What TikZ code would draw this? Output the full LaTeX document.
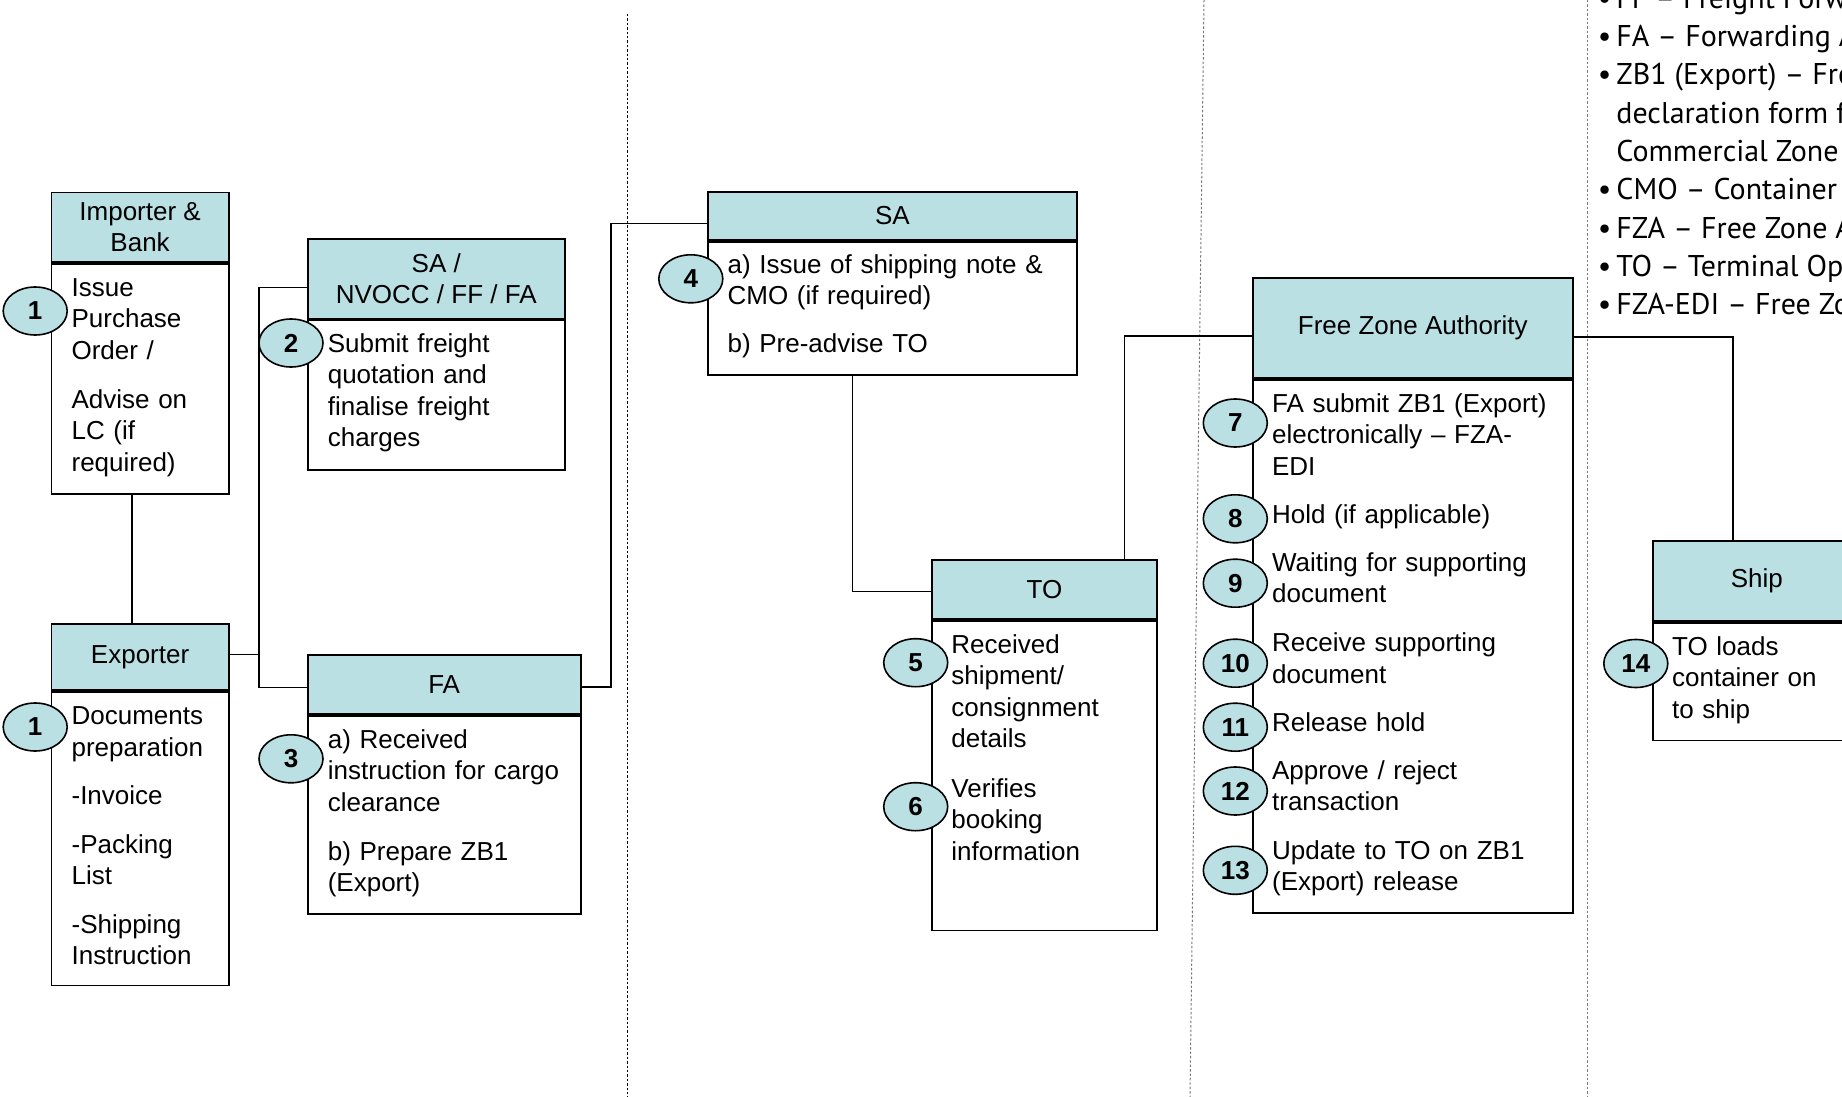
\documentclass[tikz,border=0pt]{standalone}
\usepackage{fontspec}
\setmainfont{Liberation Sans}
\newfontfamily\keyfont{PT Sans}
\usetikzlibrary{shapes.geometric,positioning}
\definecolor{laneteal}{HTML}{BAE0E3}
\definecolor{sepgrey}{HTML}{7A7A7A}
\newcommand{\lanefont}{\fontsize{13}{15.75}\selectfont}

\tikzset{
  head/.style={draw,line width=0.9pt,fill=laneteal,align=center,inner sep=0pt,anchor=north west},
  body/.style={draw,line width=0.9pt,fill=white,inner sep=0pt,anchor=north west},
  item/.style={anchor=base west,align=left,inner sep=0pt,text width=190pt},
  num/.style={ellipse,draw,line width=0.8pt,fill=laneteal,minimum width=32pt,
    minimum height=24pt,inner sep=0pt,font=\lanefont\bfseries},
  link/.style={line width=0.8pt},
  lane/.style={line width=0.5pt,dash pattern=on 1.2pt off 1pt},
  key/.style={anchor=base west,inner sep=0pt}
}

\begin{document}
\begin{tikzpicture}[x=0.5pt,y=-0.5pt,font=\lanefont]
    \useasboundingbox (0,0) rectangle (1842,1097);
    \clip (0,0) rectangle (1842,1097);

    % lane separators
    \draw[lane] (627,14) -- (627,1097);
    \draw[lane,sepgrey] (1204,0) -- (1190,1097);
    \draw[lane,sepgrey] (1587.5,0) -- (1587.5,1097);

    % boxes: header + body
    \node[head,minimum width=88.6pt,minimum height=34.75pt] (imp) at (50.6,191.5) {Importer \&\\Bank};
    \node[body,minimum width=88.6pt,minimum height=115.25pt] (impb) at (imp.south west) {};
    \node[head,minimum width=88.6pt,minimum height=33.3pt] (exp) at (50.6,622.7) {Exporter};
    \node[body,minimum width=88.6pt,minimum height=146.7pt] (expb) at (exp.south west) {};
    \node[head,minimum width=128.55pt,minimum height=39.7pt] (snv) at (306.8,238.3) {SA /\\NVOCC / FF / FA};
    \node[body,minimum width=128.55pt,minimum height=74.8pt] (snvb) at (snv.south west) {};
    \node[head,minimum width=136.45pt,minimum height=29.5pt] (fa) at (306.8,654.3) {FA};
    \node[body,minimum width=136.45pt,minimum height=98.85pt] (fab) at (fa.south west) {};
    \node[head,minimum width=184.25pt,minimum height=24.3pt] (sa) at (707.3,190.7) {SA};
    \node[body,minimum width=184.25pt,minimum height=66.5pt] (sab) at (sa.south west) {};
    \node[head,minimum width=112.2pt,minimum height=29.65pt] (to) at (931.3,559) {TO};
    \node[body,minimum width=112.2pt,minimum height=154.7pt] (tob) at (to.south west) {};
    \node[head,minimum width=160.15pt,minimum height=50.1pt] (fza) at (1251.7,276.8) {Free Zone Authority};
    \node[body,minimum width=160.15pt,minimum height=266.65pt] (fzab) at (fza.south west) {};
    \node[head,minimum width=104.15pt,minimum height=40pt] (ship) at (1651.7,540) {Ship};
    \node[body,minimum width=104.15pt,minimum height=58.85pt] (shipb) at (ship.south west) {};

    % connectors
    \coordinate (ja) at (259,654.3);
    \coordinate (jb) at (611,686.7);
    \draw[link] ([xshift=-3.95pt]impb.south) -- ([xshift=-3.95pt]exp.north);
    \draw[link] (exp.east |- ja) -- (ja) |- ([yshift=-4.35pt]snv.west);
    \draw[link] (ja) |- ([yshift=-1.45pt]fa.west);
    \draw[link] (fa.east |- jb) -- (jb) |- ([yshift=-3.85pt]sa.west);
    \draw[link] ([xshift=-20pt]sab.south) |- ([yshift=-1pt]to.west);
    \draw[link] ([xshift=40pt]to.north) |- ([yshift=-4pt]fza.west);
    \draw[link] ([yshift=-4.45pt]fza.east) -| ([xshift=-11.9pt]ship.north);

    % step texts
    \node[item] (imp1) at (71.2,296.3) {Issue\\Purchase\\Order /};
    \node[item] (imp2) at (71.2,408) {Advise on\\LC (if\\required)};
    \node[item] (exp1) at (71.2,724.7) {Documents\\preparation};
    \node[item] (exp2) at (71.2,804) {-Invoice};
    \node[item] (exp3) at (71.2,853) {-Packing\\List};
    \node[item] (exp4) at (71.2,933) {-Shipping\\Instruction};
    \node[item] (snv1) at (327.4,352) {Submit freight\\quotation and\\finalise freight\\charges};
    \node[item] (fa1) at (327.4,748) {a) Received\\instruction for cargo\\clearance};
    \node[item] (fa2) at (327.4,860.3) {b) Prepare ZB1\\(Export)};
    \node[item] (sa1) at (727.2,273) {a) Issue of shipping note \&\\CMO (if required)};
    \node[item] (sa2) at (727.2,352) {b) Pre-advise TO};
    \node[item] (to1) at (951,653) {Received\\shipment/\\consignment\\details};
    \node[item] (to2) at (951,797.3) {Verifies\\booking\\information};
    \node[item] (fz7) at (1271.7,412) {FA submit ZB1 (Export)\\electronically – FZA-\\EDI};
    \node[item] (fz8) at (1271.7,523) {Hold (if applicable)};
    \node[item] (fz9) at (1271.7,571) {Waiting for supporting\\document};
    \node[item] (fz10) at (1271.7,651.8) {Receive supporting\\document};
    \node[item] (fz11) at (1271.7,731.8) {Release hold};
    \node[item] (fz12) at (1271.7,779.4) {Approve / reject\\transaction};
    \node[item] (fz13) at (1271.7,859.3) {Update to TO on ZB1\\(Export) release};
    \node[item] (sh14) at (1671.7,655.3) {TO loads\\container on\\to ship};

    % step numbers
    \foreach \n/\xx/\yy/\lbl in {n1a/35.2/311/1,n1b/35.2/727/1,n2/291/343/2,n3/291/758.8/3,
        n4/690.8/278.8/4,n5/915.7/662.7/5,n6/915.7/806.7/6,n7/1235.3/423/7,n8/1235.3/518.8/8,
        n9/1235.3/583.2/9,n10/1235.3/663.2/10,n11/1235.3/727.2/11,n12/1235.3/791/12,
        n13/1235.3/870.3/13,n14/1635.8/663.5/14} {
      \node[num] (\n) at (\xx,\yy) {\lbl};
    }

    % abbreviations
    \begin{scope}[font=\keyfont\fontsize{15}{19.15}\selectfont]
      \foreach \n/\yy/\txt in {ff/8.4/{FF – Freight Forwarder},fa/46.7/{FA – Forwarding Agent},
          zb/85/{ZB1 (Export) – Free Zone},cmo/199.9/{CMO – Container Movement Order},
          fz/238.2/{FZA – Free Zone Authority},to/276.5/{TO – Terminal Operator},
          edi/314.8/{FZA-EDI – Free Zone Authority EDI}} {
        \node[key] (key-\n) at (1616,\yy) {\llap{\textbullet\hspace{2.5pt}}\txt};
      }
      \node[key] (key-zb2) at (1616,123.3) {declaration form for};
      \node[key] (key-zb3) at (1616,161.6) {Commercial Zone};
    \end{scope}
  \end{tikzpicture}
\end{document}
